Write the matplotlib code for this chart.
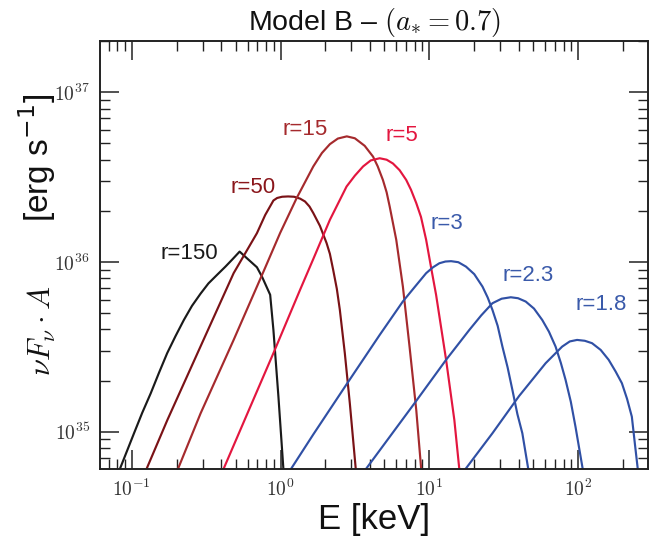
import matplotlib
matplotlib.use('Agg')
import matplotlib.pyplot as plt
from matplotlib.ticker import LogLocator, FuncFormatter, NullFormatter
import numpy as np

plt.rcParams['font.family'] = ['Liberation Sans', 'DejaVu Sans']
plt.rcParams['mathtext.fontset'] = 'cm'

# ---- data (E in keV, nuF_nu*A in erg/s) ----
E_150 = [0.083, 0.1036, 0.1175, 0.134, 0.1523, 0.173, 0.197, 0.224, 0.254, 0.290,
         0.3277, 0.375, 0.4258, 0.4743, 0.531, 0.595, 0.694, 0.75, 0.852, 0.896,
         0.968, 1.046]
F_150 = [6.0e34, 9.8e34, 1.29e35, 1.68e35, 2.22e35, 2.9e35, 3.66e35, 4.55e35,
         5.51e35, 6.5e35, 7.47e35, 8.4e35, 9.37e35, 1.034e36, 1.15e36, 1.05e36,
         9.3e35, 8.2e35, 6.4e35, 3.97e35, 1.61e35, 6.0e34]

E_50 = [0.1254, 0.1734, 0.2896, 0.4839, 0.694, 0.789, 0.896, 0.949, 1.025, 1.124,
        1.233, 1.353, 1.461, 1.566, 1.661, 1.841, 2.041, 2.148, 2.26, 2.392, 2.506,
        2.706, 2.924, 3.207]
F_50 = [6.0e34, 1.17e35, 3.17e35, 8.58e35, 1.476e36, 1.89e36, 2.30e36, 2.38e36,
        2.42e36, 2.43e36, 2.42e36, 2.36e36, 2.27e36, 2.12e36, 1.94e36, 1.63e36,
        1.29e36, 1.115e36, 8.97e35, 6.93e35, 5.21e35, 2.90e35, 1.47e35, 6.0e34]

E_15 = [0.204, 0.290, 0.484, 0.777, 0.994, 1.285, 1.661, 1.898, 2.148, 2.43, 2.79,
        3.16, 3.68, 4.19, 4.50, 4.88, 5.17, 5.42, 6.00, 6.65, 7.37, 8.18, 8.83]
F_15 = [6.0e34, 1.28e35, 3.47e35, 8.97e35, 1.48e36, 2.38e36, 3.65e36, 4.38e36,
        4.94e36, 5.33e36, 5.49e36, 5.35e36, 4.83e36, 4.17e36, 3.66e36, 3.04e36,
        2.57e36, 2.12e36, 1.35e36, 7.15e35, 3.17e35, 1.34e35, 6.0e34]

E_5 = [0.413, 0.626, 0.896, 1.353, 1.661, 2.148, 2.78, 3.16, 3.59, 4.04, 4.64, 5.17,
       5.70, 6.32, 7.00, 7.54, 8.18, 8.80, 9.53, 10.30, 11.12, 12.98, 14.75, 15.93]
F_5 = [6.0e34, 1.40e35, 2.90e35, 6.84e35, 1.04e36, 1.77e36, 2.78e36, 3.22e36,
       3.65e36, 3.96e36, 4.08e36, 4.00e36, 3.80e36, 3.47e36, 3.04e36, 2.66e36,
       2.22e36, 1.84e36, 1.35e36, 9.22e35, 6.39e35, 2.65e35, 1.17e35, 6.0e34]

E_3 = [1.172, 1.661, 2.78, 4.64, 6.65, 7.96, 9.53, 10.59, 11.70, 12.84, 14.02, 15.68,
       17.66, 20.07, 22.81, 24.71, 26.61, 28.84, 31.04, 33.64, 36.23, 39.13, 42.25,
       46.35]
F_3 = [6.0e34, 9.63e34, 1.90e35, 3.71e35, 5.85e35, 7.09e35, 8.58e35, 9.29e35,
       9.82e35, 1.005e36, 1.01e36, 9.96e35, 9.38e35, 8.47e35, 7.15e35, 6.17e35,
       5.21e35, 4.20e35, 3.17e35, 2.39e35, 1.76e35, 1.27e35, 9.79e34, 6.0e34]

E_23 = [3.74, 7.96, 12.98, 18.58, 22.36, 26.61, 30.67, 35.34, 39.54, 44.53, 50.6,
        57.5, 63.8, 70.7, 76.7, 82.5, 89.5, 96.2, 107.7]
F_23 = [6.0e34, 1.47e35, 2.65e35, 3.97e35, 4.84e35, 5.71e35, 6.07e35, 6.19e35,
        6.11e35, 5.84e35, 5.31e35, 4.55e35, 3.88e35, 3.17e35, 2.54e35, 2.02e35,
        1.50e35, 1.07e35, 6.0e34]

E_18 = [17.47, 26.61, 40.16, 60.6, 78.3, 88.1, 98.6, 111.1, 124.3, 142.1, 160.8,
        179.1, 197.3, 213.8, 230.2, 241.8, 252.5]
F_18 = [6.0e34, 9.79e34, 1.62e35, 2.53e35, 3.17e35, 3.40e35, 3.47e35, 3.43e35,
        3.32e35, 3.03e35, 2.65e35, 2.26e35, 1.93e35, 1.56e35, 1.225e35, 8.35e34, 6.0e34]

labels = ['r=150', 'r=50', 'r=15', 'r=5', 'r=3', 'r=2.3', 'r=1.8']
series_E = [E_150, E_50, E_15, E_5, E_3, E_23, E_18]
series_F = [F_150, F_50, F_15, F_5, F_3, F_23, F_18]
colors = ['#1a1a1a', '#7a1216', '#a52a2d', '#e3163f', '#3050a5', '#3050a5', '#3050a5']
label_colors = ['#1a1a1a', '#8a161b', '#a52a2d', '#e3163f', '#3a5aaa', '#3a5aaa', '#3a5aaa']
label_pos = [(0.163, 0.502), (0.280, 0.657), (0.374, 0.792), (0.551, 0.778),
             (0.633, 0.572), (0.781, 0.451), (0.914, 0.383)]

fig = plt.figure(figsize=(6.68, 5.39), dpi=100)
ax = fig.add_axes([0.149, 0.130, 0.8215, 0.7945])

for E, F, c in zip(series_E, series_F, colors):
    ax.plot(E, F, color=c, lw=1.55, solid_joinstyle='round')

for lab, (px, py), c in zip(labels, label_pos, label_colors):
    ax.text(px, py, lab, transform=ax.transAxes, color=c, fontsize=16,
            ha='center', va='center')

ax.set_xscale('log')
ax.set_yscale('log')
ax.set_xlim(0.0607, 297)
ax.set_ylim(6.03e34, 2.01e37)

ax.xaxis.set_major_locator(LogLocator(base=10, numticks=20))
ax.xaxis.set_minor_locator(LogLocator(base=10, subs=np.arange(2, 10), numticks=20))
ax.yaxis.set_major_locator(LogLocator(base=10, numticks=20))
ax.yaxis.set_minor_locator(LogLocator(base=10, subs=np.arange(2, 10), numticks=20))
fmt = FuncFormatter(lambda v, p: r'$10^{%d}$' % int(round(np.log10(v))))
ax.xaxis.set_major_formatter(fmt)
ax.yaxis.set_major_formatter(fmt)
ax.xaxis.set_minor_formatter(NullFormatter())
ax.yaxis.set_minor_formatter(NullFormatter())

ax.tick_params(which='both', direction='in', top=True, right=True, color='#222222')
ax.tick_params(which='major', length=14, width=1.1, labelsize=14, pad=7, labelcolor='#333333')
ax.tick_params(which='minor', length=7, width=1.0)
for s in ax.spines.values():
    s.set_linewidth(1.4)
    s.set_color('#222222')

ax.set_xlabel('E [keV]', fontsize=25, labelpad=2, color='#111111')
ax.set_title(r'Model B – $(a_{*}=0.7)$', fontsize=20.5, pad=8, color='#111111')

fig.text(0.062, 0.386, r'$\nu F_\nu \cdot A$', rotation=90, fontsize=22,
         ha='center', va='center', color='#111111')
fig.text(0.056, 0.707, r'[erg s$^{-1}$]', rotation=90, fontsize=24,
         ha='center', va='center', color='#111111', math_fontfamily='dejavusans')

fig.savefig('out.png', dpi=100)
